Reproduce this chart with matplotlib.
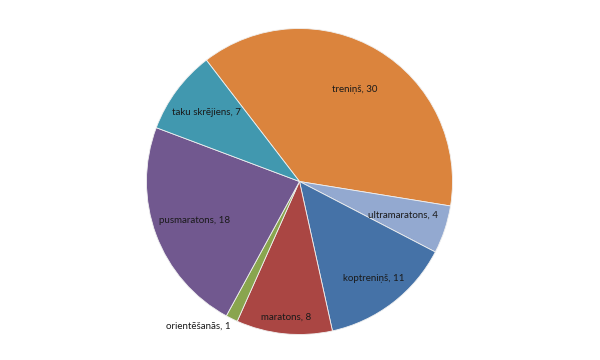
import matplotlib
matplotlib.use('Agg')
import matplotlib.pyplot as plt
import numpy as np

plt.rcParams['font.family'] = ['Lato', 'DejaVu Sans']

# slices, clockwise as in the reference
labels = ['treniņš', 'ultramaratons', 'koptreniņš', 'maratons',
          'orientēšanās', 'pusmaratons', 'taku skrējiens']
values = [30, 4, 11, 8, 1, 18, 7]
colors = ['#DB843D', '#93A9D0', '#4572A7', '#AA4643',
          '#89A54E', '#71588F', '#4198AF']

# label distance from centre (fraction of radius)
label_r = [0.70, 0.71, 0.80, 0.89, 1.02, 0.73, 0.76]

fig = plt.figure(figsize=(6, 3.6), dpi=100)
cx, cy, r = 299.5, 181.5, 153
ax = fig.add_axes([(cx - r) / 600, (360 - cy - r) / 360, 2 * r / 600, 2 * r / 360])

start = 90 + 37.5
wedges, _ = ax.pie(values, colors=colors, startangle=start, counterclock=False,
                   wedgeprops=dict(edgecolor='#f0f0f0', linewidth=0.6))

total = sum(values)
ang = start
for lab, v, lr in zip(labels, values, label_r):
    span = v / total * 360
    mid = np.deg2rad(ang - span / 2)
    ang -= span
    x, y = lr * np.cos(mid), lr * np.sin(mid)
    if lr > 1:
        ax.text(x, y - 0.03, f'{lab}, {v}', ha='right', va='center', fontsize=7, color='#1a1a1a')
    else:
        ax.text(x, y, f'{lab}, {v}', ha='center', va='center', fontsize=7, color='#1a1a1a')

ax.set_xlim(-1, 1)
ax.set_ylim(-1, 1)
ax.axis('off')

fig.savefig('out.png', dpi=100)
